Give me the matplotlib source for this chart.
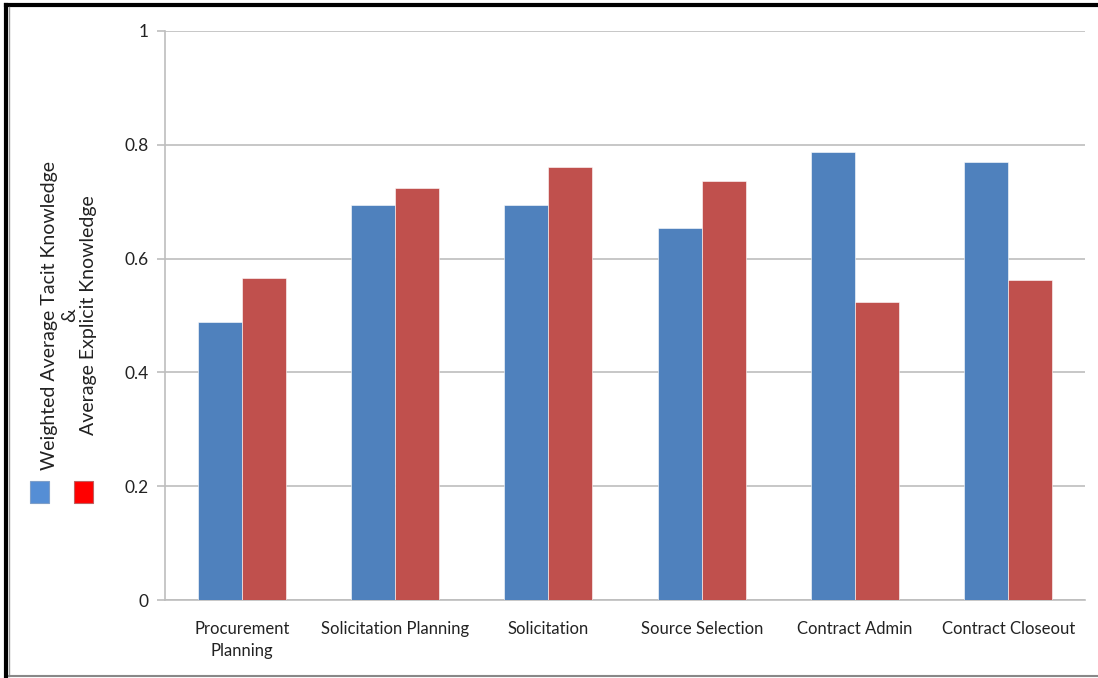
import matplotlib.pyplot as plt
import numpy as np
from matplotlib.patches import Rectangle
from matplotlib.lines import Line2D

plt.rcParams['font.family'] = ['Lato', 'DejaVu Sans']

phases = ['Procurement\nPlanning', 'Solicitation Planning', 'Solicitation',
          'Source Selection', 'Contract Admin', 'Contract Closeout']
tacit = [0.489, 0.694, 0.694, 0.654, 0.787, 0.770]
explicit = [0.566, 0.724, 0.761, 0.736, 0.524, 0.562]

blue = '#4F81BD'
red = '#C0504D'
grid_grey = '#BEBEBE'

fig = plt.figure(figsize=(10.98, 6.78), dpi=100)
ax = fig.add_axes([0.1503, 0.1150, 0.8379, 0.8393])

x = np.arange(len(phases))
w = 0.287
ax.bar(x - w / 2, tacit, w, color=blue, edgecolor='white', linewidth=0.4, zorder=3)
ax.bar(x + w / 2, explicit, w, color=red, edgecolor='white', linewidth=0.4, zorder=3)

ax.set_xlim(-0.5, len(phases) - 0.5)
ax.set_ylim(0, 1)
ax.set_yticks([0, 0.2, 0.4, 0.6, 0.8, 1.0])
ax.set_yticklabels(['0', '0.2', '0.4', '0.6', '0.8', '1'])
ax.set_xticks(x)
ax.set_xticklabels(phases, fontsize=12, color='#222222', linespacing=1.5)
ax.tick_params(axis='x', length=0, pad=15)
ax.tick_params(axis='y', length=6, color=grid_grey, width=1.2, labelsize=12.5,
               labelcolor='#222222', pad=6)
ax.yaxis.grid(True, color=grid_grey, linewidth=1.2, zorder=0)
for s in ['top', 'right']:
    ax.spines[s].set_visible(False)
for s in ['left', 'bottom']:
    ax.spines[s].set_color(grid_grey)
    ax.spines[s].set_linewidth(1.2)

# axis title on the left, two lines
fig.text(0.063, 0.535, 'Weighted Average Tacit Knowledge\n&\nAverage Explicit Knowledge',
         rotation=90, ha='center', va='center', fontsize=14, color='#222222',
         linespacing=1.2)

# legend swatches
fig.patches.append(Rectangle((30 / 1098, 1 - 503 / 678), 19 / 1098, 22 / 678,
                             transform=fig.transFigure, facecolor='#558ED5',
                             edgecolor='#7F9FC8', linewidth=0.8))
fig.patches.append(Rectangle((74 / 1098, 1 - 503 / 678), 19 / 1098, 22 / 678,
                             transform=fig.transFigure, facecolor='#FF0000',
                             edgecolor='#C06060', linewidth=0.8))

# outer frame
fig.lines.append(Line2D([6 / 1098, 6 / 1098], [0, 1 - 5 / 678], transform=fig.transFigure,
                        color='black', linewidth=3))
fig.lines.append(Line2D([6 / 1098, 1], [1 - 5 / 678, 1 - 5 / 678], transform=fig.transFigure,
                        color='black', linewidth=3))
fig.lines.append(Line2D([9 / 1098, 9 / 1098], [2 / 678, 1 - 7 / 678], transform=fig.transFigure,
                        color='#999999', linewidth=1))
fig.lines.append(Line2D([9 / 1098, 1], [2 / 678, 2 / 678], transform=fig.transFigure,
                        color='#888888', linewidth=1.5))

fig.savefig('out.png', dpi=100)
plt.close()
